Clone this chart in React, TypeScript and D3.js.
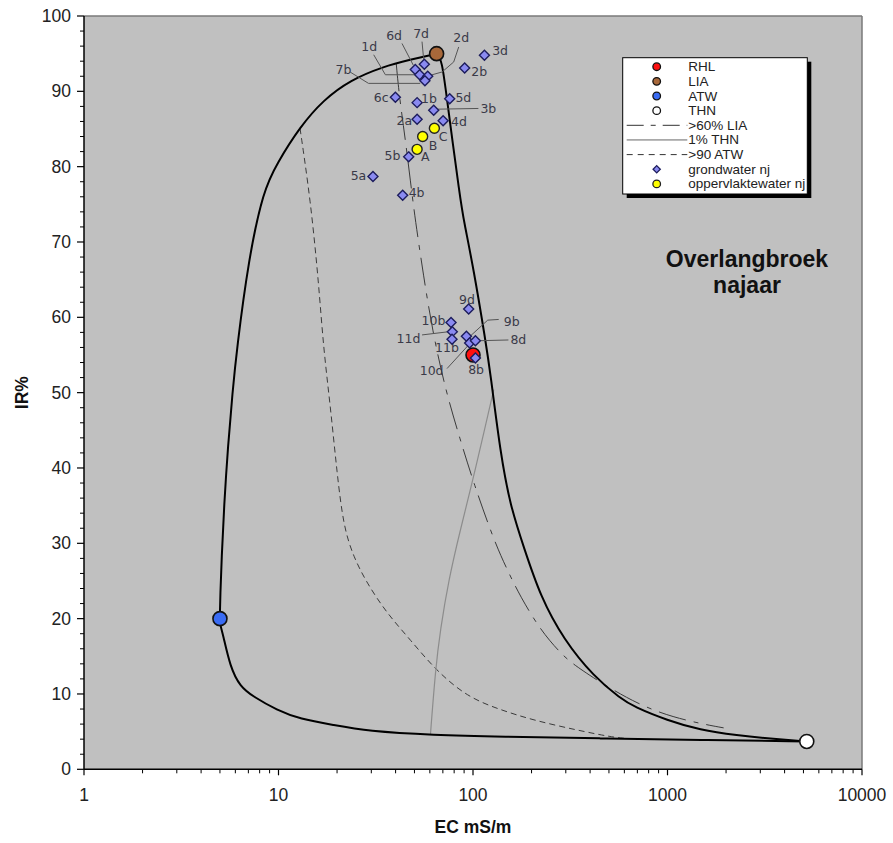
import React from "react";
import * as d3 from "d3";

// ---------- data ----------
const endNames = ["RHL", "LIA", "ATW", "THN"];
const endEC = [100, 65, 5, 5200];
const endIR = [55, 95, 20, 3.7];
const endColors = ["#ff1010", "#a8683a", "#3a6cf4", "#ffffff"];

const gwNames = ["3d","2b","7d","6d","1d","2d","7b","6c","1b","5d","3b","2a","4d","5b","5a","4b","9d","10b","11d","11b","9b","10d","8d","8b"];
const gwEC = [114.5,90.6,56.2,50.5,53.2,58.5,56.6,39.9,51.6,75.9,62.8,51.6,70.2,46.7,30.6,43.5,95.0,77.1,78.3,78.0,92.5,96.1,102.9,102.9];
const gwIR = [94.8,93.1,93.6,92.9,92.2,92.0,91.4,89.2,88.5,89.0,87.5,86.3,86.1,81.3,78.7,76.2,61.1,59.3,58.1,57.1,57.5,56.6,56.9,54.6];

const owNames = ["A", "B", "C"];
const owEC = [51.6, 55.1, 63.3];
const owIR = [82.3, 84.0, 85.1];

// mixing curves [EC, IR]
const curveAtwLia: [number, number][] = [[5.0,20],[5.0,21],[5.02,23],[5.1,28],[5.25,35],[5.5,43],[5.8,50],[6.1,55.7],[7.0,67.6],[8.37,76.9],[9.81,80.4],[12.9,85.3],[17.0,88.85],[23.4,91.5],[34.7,93.3],[47.6,94.2],[65,95]];
const curveAtwThn: [number, number][] = [[5.0,20],[5.03,19],[5.17,18.05],[5.64,13.6],[6.35,10.97],[7.43,9.64],[9.81,7.87],[12.9,6.68],[19.2,5.88],[28.5,5.08],[62.8,4.55],[138,4.33],[453,4.1],[1480,3.9],[5200,3.7]];
const curveLiaThn: [number, number][] = [[65,95],[69.3,94.2],[73.5,88.85],[86.1,75.6],[89.6,72.9],[100.9,66.3],[115.8,57.0],[122.9,52.6],[138.4,41.9],[155.8,34.9],[182.4,29.5],[222.3,22.9],[293,17.2],[418,12.3],[574,9.4],[672,8.3],[997,6.5],[1480,5.2],[2190,4.55],[3960,3.9],[5200,3.7]];
const curveLia60: [number, number][] = [[40.3,93.7],[41.8,89.3],[44.9,83.6],[47.6,78.2],[50.5,72.9],[55.6,65.6],[61.8,58.3],[72.1,50.4],[86.1,43.7],[100.8,38.0],[128,30.4],[149.8,26.5],[175.4,22.9],[222,18.5],[282,15.4],[337,13.6],[727,8.2],[1315,6.3],[1944,5.5]];
const curveThn1: [number, number][] = [[60.4,4.55],[64.1,13.2],[67.9,18.5],[75.0,25.2],[86.1,31.8],[98.9,38.0],[111.4,43.7],[127.8,50.4]];
const curveAtw90: [number, number][] = [[12.9,85.1],[14.6,75.6],[16.1,64.5],[17.0,56.1],[18.5,48.1],[20.0,39.3],[21.6,32.2],[24.3,28.2],[28.5,24.7],[36.1,20.7],[47.6,17.2],[64.1,13.2],[93.3,9.6],[138,7.9],[205,6.5],[343,5.2],[510,4.3],[600,4.12]];

const xTicks = [1, 10, 100, 1000, 10000];
const yTicks = [0, 10, 20, 30, 40, 50, 60, 70, 80, 90, 100];

const legendLabels = ["RHL", "LIA", "ATW", "THN", ">60% LIA", "1% THN", ">90 ATW", "grondwater nj", "oppervlaktewater nj"];

// ---------- label layout (pixel offsets from marker) ----------
type Lay = { dx: number; dy: number; a: string; lead?: [number, number][] };
const layout: Record<string, Lay> = {
  "3d": { dx: 7.7, dy: -4.3, a: "start" },
  "2b": { dx: 6.7, dy: 3.4, a: "start" },
  "2d": { dx: 33.5, dy: -38.7, a: "middle", lead: [[31,-29.3],[26,-14.3],[14.4,-4.3],[2.7,-1]] },
  "7d": { dx: -3.2, dy: -31, a: "middle", lead: [[-2.3,-22.6],[-0.7,-5.3]] },
  "6d": { dx: -21.2, dy: -34.3, a: "middle", lead: [[-13.3,-26],[-2,-4.3]] },
  "1d": { dx: -50.5, dy: -28.3, a: "middle", lead: [[-46,-20],[-34.3,0],[-5.3,0]] },
  "7b": { dx: -81.4, dy: -11.4, a: "middle", lead: [[-74.7,-8.7],[-56.4,2.6],[-4.7,2.6]] },
  "6c": { dx: -6.7, dy: 0, a: "end" },
  "1b": { dx: 4, dy: -4.4, a: "start" },
  "5d": { dx: 5.7, dy: -1.3, a: "start" },
  "3b": { dx: 46.7, dy: -1.7, a: "start", lead: [[4.2,-1],[44.7,-1.7]] },
  "2a": { dx: -5, dy: 1.7, a: "end" },
  "4d": { dx: 8, dy: 1, a: "start" },
  "5b": { dx: -8.3, dy: -1.7, a: "end" },
  "5a": { dx: -6.7, dy: -0.7, a: "end" },
  "4b": { dx: 6, dy: -2.3, a: "start" },
  "9d": { dx: -1.6, dy: -9.3, a: "middle" },
  "10b": { dx: -5.7, dy: -2.3, a: "end" },
  "11d": { dx: -32, dy: 7.3, a: "end", lead: [[-30.3,3.3],[-3,0]] },
  "11b": { dx: -5, dy: 8.3, a: "middle" },
  "9b": { dx: 37.3, dy: -14.3, a: "start", lead: [[32.3,-16.7],[21.3,-16],[1.3,2.3]] },
  "10d": { dx: -38, dy: 27.3, a: "middle", lead: [[-22.6,25.6],[-1.3,2.3]] },
  "8d": { dx: 35, dy: -0.7, a: "start", lead: [[33,-0.7],[5,0]] },
  "8b": { dx: 0.7, dy: 11.7, a: "middle" },
  "A": { dx: 4, dy: 6.7, a: "start" },
  "B": { dx: 6, dy: 9, a: "start" },
  "C": { dx: 4.3, dy: 8.4, a: "start" },
};

const W = 893, H = 843;
const L = 84, R = 862, T = 16, B = 769.3;

export default function App() {
  const x = d3.scaleLog().domain([1, 10000]).range([L, R]);
  const y = d3.scaleLinear().domain([0, 100]).range([B, T]);
  const line = d3.line<[number, number]>().x(d => x(d[0])).y(d => y(d[1])).curve(d3.curveBasis);

  const minorX: number[] = [];
  for (let e = 0; e < 4; e++) for (let m = 2; m <= 9; m++) minorX.push(m * Math.pow(10, e));
  const minorY: number[] = d3.range(2, 100, 2).filter(v => v % 10 !== 0);

  const labelFont = "'DejaVu Sans', Verdana, sans-serif";
  const arial = "'Liberation Sans', Arial, sans-serif";
  const diamond = (cx: number, cy: number, s: number) => `M${cx},${cy - s}L${cx + s},${cy}L${cx},${cy + s}L${cx - s},${cy}Z`;

  const renderLabel = (name: string, px: number, py: number) => {
    const l = layout[name];
    if (!l) return null;
    return (
      <g key={"lab" + name}>
        {l.lead && (
          <polyline points={l.lead.map(p => `${px + p[0]},${py + p[1]}`).join(" ")} fill="none" stroke="#555" strokeWidth={1} />
        )}
        <text x={px + l.dx} y={py + l.dy} textAnchor={l.a as any} dominantBaseline="central" fontFamily={labelFont} fontSize={12.5} fill="#3a3a48">{name}</text>
      </g>
    );
  };

  // legend
  const lgX = 622.7, lgY = 57.7, lgW = 184.6, lgH = 136.3;
  const rowY = (i: number) => 66.7 + i * 14.65;
  const symX = 656.7, txtX = 688.3;

  return (
    <svg width={W} height={H} style={{ position: "absolute", left: 0, top: 0, background: "#fff" }}>
      <rect x={0} y={0} width={W} height={H} fill="#fff" />
      <rect x={L} y={T} width={R - L} height={B - T} fill="#c0c0c0" />
      <line x1={L} y1={T} x2={R} y2={T} stroke="#7a7a7a" strokeWidth={1.5} />
      <line x1={R} y1={T} x2={R} y2={B} stroke="#7a7a7a" strokeWidth={1.5} />

      {/* curves */}
      <path d={line(curveAtw90) || ""} fill="none" stroke="#3a3a3a" strokeWidth={1} strokeDasharray="6,4" />
      <path d={line(curveLia60) || ""} fill="none" stroke="#3a3a3a" strokeWidth={1} strokeDasharray="28,8,5,8" />
      <path d={line(curveThn1) || ""} fill="none" stroke="#8c8c8c" strokeWidth={1.2} />
      <path d={line(curveAtwLia) || ""} fill="none" stroke="#000" strokeWidth={2} />
      <path d={line(curveAtwThn) || ""} fill="none" stroke="#000" strokeWidth={2} />
      <path d={line(curveLiaThn) || ""} fill="none" stroke="#000" strokeWidth={2} />

      {/* axes */}
      <line x1={L} y1={T} x2={L} y2={B} stroke="#000" strokeWidth={1.5} />
      <line x1={L} y1={B} x2={R} y2={B} stroke="#000" strokeWidth={1.5} />
      {yTicks.map(v => (
        <g key={"yt" + v}>
          <line x1={L - 7} x2={L} y1={y(v)} y2={y(v)} stroke="#000" strokeWidth={1.2} />
          <text x={L - 13} y={y(v)} textAnchor="end" dominantBaseline="central" fontFamily={arial} fontSize={17.5} fill="#222">{v}</text>
        </g>
      ))}
      {minorY.map(v => <line key={"ym" + v} x1={L - 4} x2={L} y1={y(v)} y2={y(v)} stroke="#000" strokeWidth={1} />)}
      {xTicks.map(v => (
        <g key={"xt" + v}>
          <line x1={x(v)} x2={x(v)} y1={B} y2={B + 6} stroke="#000" strokeWidth={1.2} />
          <text x={x(v)} y={B + 26} textAnchor="middle" dominantBaseline="central" fontFamily={arial} fontSize={17.5} fill="#222">{v}</text>
        </g>
      ))}
      {minorX.map(v => <line key={"xm" + v} x1={x(v)} x2={x(v)} y1={B} y2={B + 4} stroke="#000" strokeWidth={1} />)}
      <text x={(L + R) / 2} y={826.7} textAnchor="middle" dominantBaseline="central" fontFamily={arial} fontWeight="bold" fontSize={17.5} fill="#111">EC mS/m</text>
      <text transform={`translate(22,${(T + B) / 2}) rotate(-90)`} textAnchor="middle" dominantBaseline="central" fontFamily={arial} fontWeight="bold" fontSize={17.5} fill="#111">IR%</text>

      {/* title */}
      <text x={747} y={266.7} textAnchor="middle" fontFamily={arial} fontWeight="bold" fontSize={23} fill="#111">Overlangbroek</text>
      <text x={747} y={293.3} textAnchor="middle" fontFamily={arial} fontWeight="bold" fontSize={23} fill="#111">najaar</text>

      {/* labels */}
      {gwNames.map((n, i) => renderLabel(n, x(gwEC[i]), y(gwIR[i])))}
      {owNames.map((n, i) => renderLabel(n, x(owEC[i]), y(owIR[i])))}

      {/* end members */}
      {endNames.map((n, i) => (
        <circle key={"em" + n} cx={x(endEC[i])} cy={y(endIR[i])} r={7} fill={endColors[i]} stroke="#111" strokeWidth={1.6} />
      ))}
      {/* surface water */}
      {owNames.map((n, i) => (
        <circle key={"ow" + n} cx={x(owEC[i])} cy={y(owIR[i])} r={5} fill="#ffff00" stroke="#222" strokeWidth={1.4} />
      ))}
      {/* groundwater */}
      {gwNames.map((n, i) => (
        <path key={"gw" + n} d={diamond(x(gwEC[i]), y(gwIR[i]), 5)} fill="#8a8af0" stroke="#1c1c5c" strokeWidth={1.4} />
      ))}

      {/* legend */}
      <rect x={lgX + 4} y={lgY + 4} width={lgW} height={lgH} fill="#000" />
      <rect x={lgX} y={lgY} width={lgW} height={lgH} fill="#fff" stroke="#000" strokeWidth={1} />
      {legendLabels.map((lab, i) => {
        const cy = rowY(i);
        let sym: React.ReactNode = null;
        if (i < 4) sym = <circle cx={symX} cy={cy} r={3.8} fill={endColors[i]} stroke="#111" strokeWidth={1.3} />;
        else if (i === 4) sym = <line x1={626.7} x2={687.3} y1={cy} y2={cy} stroke="#333" strokeWidth={1} strokeDasharray="17,7,5,7" />;
        else if (i === 5) sym = <line x1={626.7} x2={687.3} y1={cy} y2={cy} stroke="#666" strokeWidth={1} />;
        else if (i === 6) sym = <line x1={626.7} x2={687.3} y1={cy} y2={cy} stroke="#333" strokeWidth={1} strokeDasharray="6,5" />;
        else if (i === 7) sym = <path d={diamond(symX, cy, 3.6)} fill="#8a8af0" stroke="#1c1c5c" strokeWidth={1.3} />;
        else sym = <circle cx={symX} cy={cy} r={3.8} fill="#ffff00" stroke="#222" strokeWidth={1.3} />;
        return (
          <g key={"lg" + i}>
            {sym}
            <text x={txtX} y={cy} dominantBaseline="central" fontFamily={arial} fontSize={13.5} fill="#222">{lab}</text>
          </g>
        );
      })}
    </svg>
  );
}
